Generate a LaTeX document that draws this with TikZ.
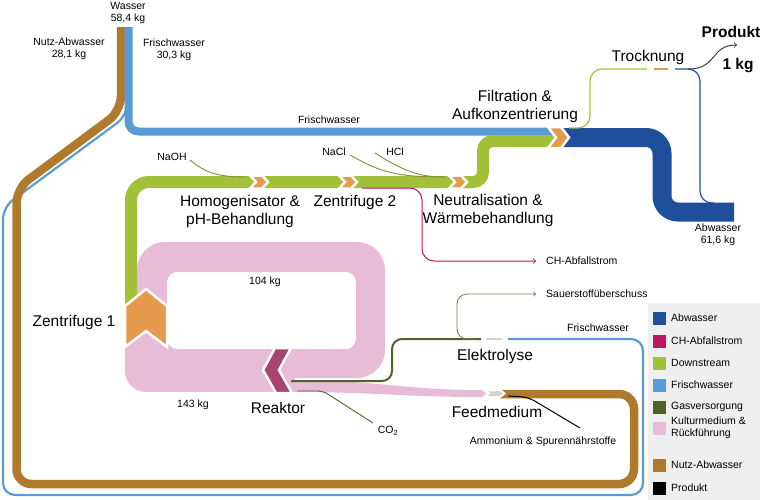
\documentclass[tikz,border=0pt]{standalone}
\usepackage{fontspec}
\setmainfont{Liberation Sans}
\usetikzlibrary{arrows}

\definecolor{abw}{RGB}{31,78,155}
\definecolor{chab}{RGB}{190,22,95}
\definecolor{down}{RGB}{163,193,56}
\definecolor{frisch}{RGB}{91,155,213}
\definecolor{gas}{RGB}{80,98,40}
\definecolor{kultur}{RGB}{232,188,215}
\definecolor{nutz}{RGB}{176,122,44}
\definecolor{orng}{RGB}{229,154,77}
\definecolor{reak}{RGB}{168,68,112}
\definecolor{grau}{RGB}{210,210,210}
\definecolor{chem}{RGB}{128,142,58}
\definecolor{legbg}{RGB}{239,239,239}

\begin{document}
\begin{tikzpicture}[x=1pt, y=-1pt,
    txt/.style={font=\fontsize{10.5}{12.5}\selectfont, align=center, inner sep=0pt},
    big/.style={font=\fontsize{15.5}{18}\selectfont, align=center, inner sep=0pt},
    chev/.style={draw=white, line width=2.5pt, line join=miter},
    thin/.style={line width=0.9pt},
    entry/.style={txt, anchor=west, align=left}
]
\useasboundingbox (0,0) rectangle (760,499);

\fill [legbg, rounded corners=3] (648,303) rectangle (762,502);

% water streams
\draw [frisch, line width=2.2pt, rounded corners=12]
    (127,90) -- (127,115.7) -- (3,207.2) -- (3,495) -- (643,495) -- (643,339) -- (508,339);
\draw [nutz, line width=8.5pt, rounded corners=15]
    (121,27) -- (121,111) -- (16.5,188.5) -- (16.5,484) -- (634,484) -- (634,394) -- (500,394);
\draw [frisch, line width=8pt, rounded corners=10]
    (128.5,27) -- (128.5,131.5) -- (556,131.5);
\draw [abw, line width=19pt, rounded corners=16]
    (556,137.5) -- (662,137.5) -- (662,212) -- (734,212);

% culture loop
\fill [kultur, even odd rule] [rounded corners=28] (137,242) rectangle (385,378)
    [rounded corners=10] (167,272) rectangle (356,349);
\fill [kultur, rounded corners=21] (125,300) rectangle (167,392);
\fill [kultur] (150,349) rectangle (295,392);
\fill [kultur] (288,380) .. controls (380,380) and (400,390) .. (482,390) -- (486,393.5)
    -- (482,397) .. controls (400,397) and (380,392) .. (288,392) -- cycle;

% downstream
\draw [down, line width=12pt, rounded corners=18] (131,305) -- (131,182) -- (470,182);
\draw [down, line width=12pt, rounded corners=10] (460,182) -- (483,182) -- (483,141) -- (556,141);

% process steps
\foreach \x in {250,339,449}
    \fill [orng, chev] (\x,175.5) -- (\x+12,175.5) -- (\x+18,182) -- (\x+12,188.5) -- (\x,188.5) -- (\x+6,182) -- cycle;
\fill [orng, chev] (548,127) -- (561,127) -- (569,137.5) -- (561,148) -- (548,148) -- (556,137.5) -- cycle;
\fill [orng, chev] (125,306) -- (146,289) -- (167,306) -- (167,347) -- (146,331) -- (125,347) -- cycle;
\fill [reak, chev] (275,348) -- (291,348) -- (279,370) -- (292,393) -- (276,393) -- (263,370) -- cycle;
\fill [grau, draw=white, line width=2pt] (485,390) -- (500,390) -- (504.5,393.5) -- (500,397) -- (485,397) -- (489,393.5) -- cycle;
\draw [grau, line width=2.4pt] (486,339) -- (502,339);

% side streams
\draw [chem, thin] (190,160) .. controls (205,172) and (215,177) .. (247,177);
\draw [chem, thin] (350,155) .. controls (380,172) and (395,177) .. (445,177);
\draw [chem, thin] (375,153) .. controls (405,172) and (420,177) .. (445,177);
\draw [gas, line width=2pt, rounded corners=10] (291,381) -- (392,381) -- (392,339) -- (481,339);
\draw [gas, thin, rounded corners=5] (297,391) -- (323,391) -- (373,423);
\draw [black, line width=1pt, rounded corners=8] (508,396) -- (528,397) -- (580,428);
\draw [down, line width=1.2pt, rounded corners=12] (569,128) -- (590,128) -- (590,69) -- (647,69);
\draw [orng, line width=1.5pt] (654,69) -- (668,69);
\draw [abw, line width=1.2pt, rounded corners=12] (675,69) -- (700,69) -- (700,203) -- (714,203);

% labels
\node [txt] (wasser) at (128,13) {Wasser\\58,4 kg};
\node [txt] (nutzin) at (69,49) {Nutz-Abwasser\\28,1 kg};
\node [txt] (frischin) at (174,50) {Frischwasser\\30,3 kg};
\node [txt] (frischtop) at (329,120) {Frischwasser};
\node [txt] (naoh) at (172,157) {NaOH};
\node [txt] (nacl) at (334,152) {NaCl};
\node [txt] (hcl) at (395,152) {HCl};
\node [txt] (kg104) at (265,282) {104 kg};
\node [txt] (kg143) at (193,405) {143 kg};
\node [txt] (co2) at (388,431) {CO\textsubscript{2}};
\node [txt, anchor=west] (chabf) at (546,261) {CH-Abfallstrom};
\node [txt, anchor=west] (sauer) at (546,294) {Sauerstoffüberschuss};
\node [txt] (frischel) at (598,328) {Frischwasser};
\node [txt] (abwout) at (718,235) {Abwasser\\61,6 kg};
\node [txt] (ammon) at (543,442) {Ammonium \& Spurennährstoffe};

\node [big] (homog) at (240,211) {Homogenisator \&\\pH-Behandlung};
\node [big] (zen2) at (355,202) {Zentrifuge 2};
\node [big] (neutr) at (488,210) {Neutralisation \&\\Wärmebehandlung};
\node [big] (filtr) at (515,106) {Filtration \&\\Aufkonzentrierung};
\node [big] (trock) at (648,57) {Trocknung};
\node [big] (zen1) at (74,322) {Zentrifuge 1};
\node [big] (reakt) at (278,408) {Reaktor};
\node [big] (elekt) at (495,356) {Elektrolyse};
\node [big] (feed) at (497,412) {Feedmedium};
\node [big, font=\bfseries\fontsize{15.5}{18}\selectfont] (prod) at (731,32) {Produkt};
\node [big, font=\bfseries\fontsize{15.5}{18}\selectfont] (prodkg) at (738,66) {1 kg};

% outlets
\draw [chab, line width=1pt, ->, rounded corners=12] (362,188) -- (422,188) -- (422,261) -- ([xshift=-10pt]chabf.west);
\draw [gas!80, thin, ->, rounded corners=10] (478,339) -- (457,339) -- (457,294) -- ([xshift=-10pt]sauer.west);
\draw [black!75, line width=1pt, ->] (688,69) .. controls (718,69) and (710,45) .. (737,45);

% legend
\foreach \col/\name/\y in {abw/Abwasser/318, chab/CH-Abfallstrom/341, down/Downstream/363,
    frisch/Frischwasser/385, gas/Gasversorgung/407, kultur/{Kulturmedium \&\\Rückführung}/428,
    nutz/Nutz-Abwasser/465, black/Produkt/488}
{
    \fill [\col] (653,\y-6.5) rectangle (666,\y+6.5);
    \node [entry] (leg\col) at (671,\y) {\name};
}

\end{tikzpicture}
\end{document}
